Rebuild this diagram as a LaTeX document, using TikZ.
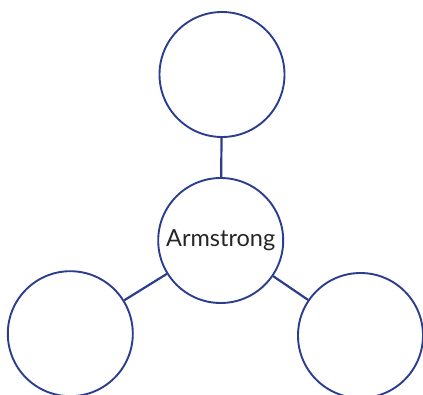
\documentclass[tikz,border=0pt]{standalone}
\usepackage{fontspec}
\setmainfont{Lato}
\usepackage{xcolor}
\definecolor{ringblue}{HTML}{2B3E8E}
\tikzset{bubble/.style={circle,draw=ringblue,line width=1.9pt,minimum size=125pt,inner sep=0pt,fill=white,font=\fontsize{23.5}{28}\selectfont,text=black!85}}

\begin{document}
\begin{tikzpicture}[x=1pt,y=-1pt]
\useasboundingbox (0,0) rectangle (423,394);
\node[bubble] (core) at (220.7,240.5) {\raisebox{-2pt}{Armstrong}};
\node[bubble] (top) at (222,74.5) {};
\node[bubble] (left) at (70.3,333.7) {};
\node[bubble] (right) at (360.5,335.5) {};
\foreach \n in {top, left, right} \draw[ringblue,line width=2.2pt] (core) -- (\n);
\end{tikzpicture}
\end{document}
